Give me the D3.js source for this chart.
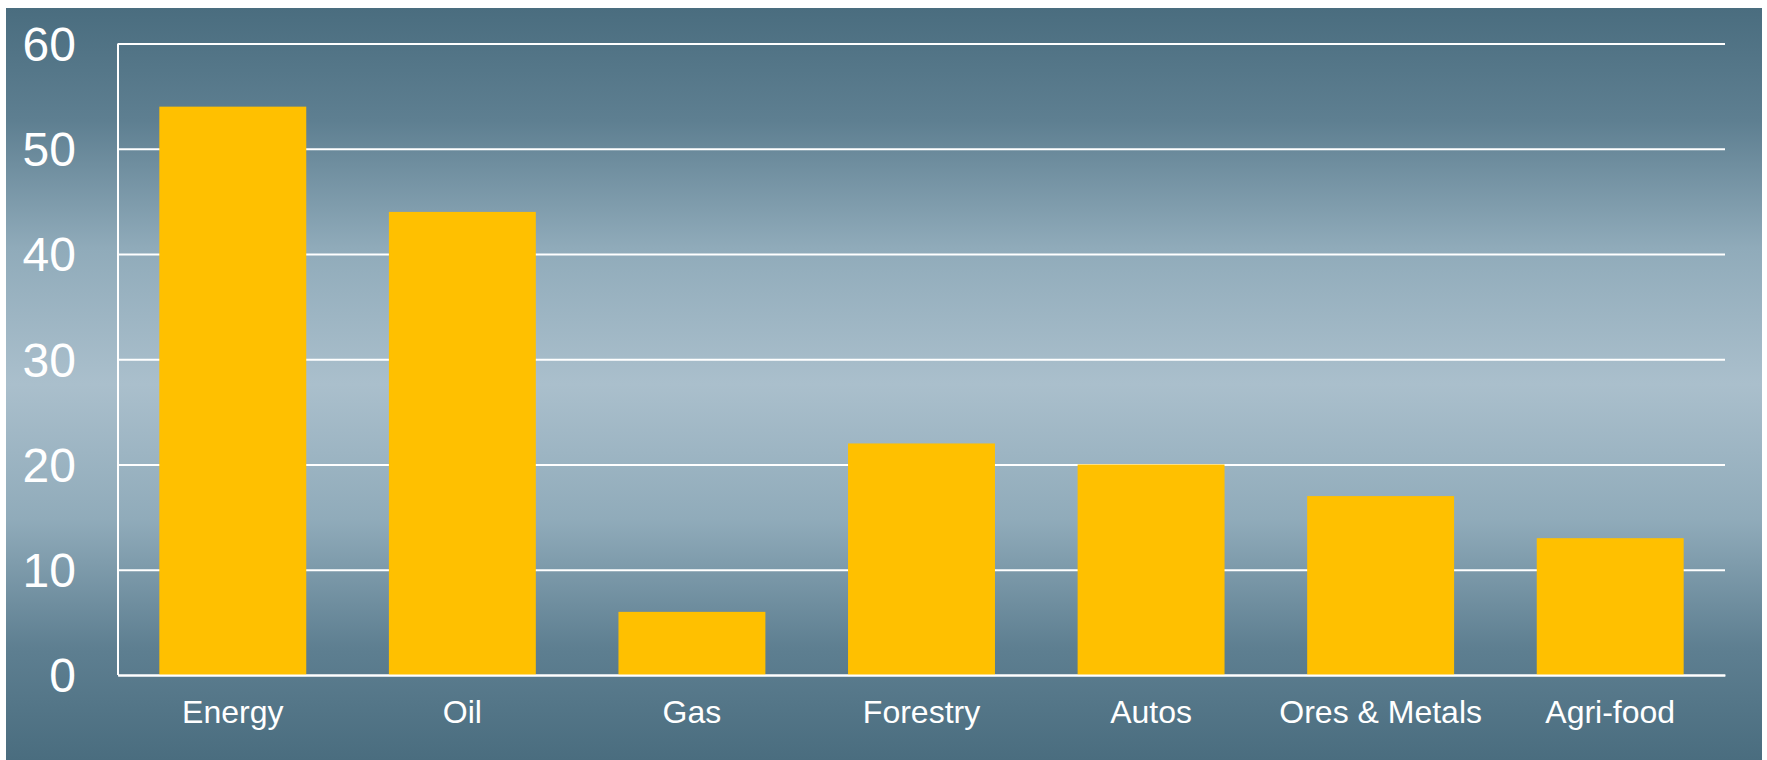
<!DOCTYPE html>
<html>
<head>
<meta charset="utf-8">
<script src="https://cdn.jsdelivr.net/npm/d3@7"></script>
<style>
  html, body { margin: 0; padding: 0; background: #ffffff; }
  svg { display: block; }
</style>
</head>
<body>
<svg id="chart" width="1767" height="760"></svg>
<script>
const categories = ["Energy", "Oil", "Gas", "Forestry", "Autos", "Ores & Metals", "Agri-food"];
const values = [54, 44, 6, 22, 20, 17, 13];
const yTicks = [0, 10, 20, 30, 40, 50, 60];

const svg = d3.select("#chart");
const W = 1767, H = 760;
const margin = { left: 118, right: 42, top: 43.5, bottom: 85 };

const defs = svg.append("defs");
const grad = defs.append("linearGradient").attr("id", "bg").attr("x1", 0).attr("y1", 0).attr("x2", 0).attr("y2", 1);
[["0%", "#4a6d7f"], ["15%", "#5e7f91"], ["32%", "#90abba"], ["50%", "#aabfcc"], ["68%", "#90abba"], ["85%", "#5e7f91"], ["100%", "#4a6d7f"]]
  .forEach(([o, c]) => grad.append("stop").attr("offset", o).attr("stop-color", c));

svg.append("rect").attr("x", 6).attr("y", 8).attr("width", 1756).attr("height", H - 8).attr("fill", "url(#bg)");

const x = d3.scaleBand().domain(categories).range([margin.left, W - margin.right]).paddingInner(0.36).paddingOuter(0.18);
const y = d3.scaleLinear().domain([0, 60]).range([675, 43.5]);

// gridlines
const yAxis = d3.axisLeft(y).tickValues(yTicks).tickSize(-(W - margin.right - margin.left)).tickFormat(d3.format("d")).tickPadding(42);
const gy = svg.append("g").attr("transform", `translate(${margin.left},0)`).call(yAxis);
gy.select(".domain").attr("stroke", "#ffffff").attr("stroke-width", 2).attr("d", `M0,${y(60)}V${y(0)}`);
gy.selectAll(".tick line").attr("stroke", "#ffffff").attr("stroke-width", 2);
gy.selectAll(".tick text").attr("fill", "#ffffff").style("font-family", "'Liberation Sans', Arial, sans-serif").style("font-size", "48px").attr("dy", "0.35em");

// bars
svg.append("g").selectAll("rect").data(values).join("rect")
  .attr("x", (d, i) => x(categories[i]))
  .attr("width", x.bandwidth())
  .attr("y", d => y(d))
  .attr("height", d => y(0) - y(d))
  .attr("fill", "#ffc000");

// x axis
const xAxis = d3.axisBottom(x).tickSize(0).tickPadding(0);
const gx = svg.append("g").attr("transform", `translate(0,${y(0)})`).call(xAxis);
gx.select(".domain").attr("stroke", "#ffffff").attr("stroke-width", 2);
gx.selectAll(".tick text").attr("fill", "#ffffff").style("font-family", "'Liberation Sans', Arial, sans-serif").style("font-size", "32px").attr("dy", null).attr("y", 48);
</script>
</body>
</html>
